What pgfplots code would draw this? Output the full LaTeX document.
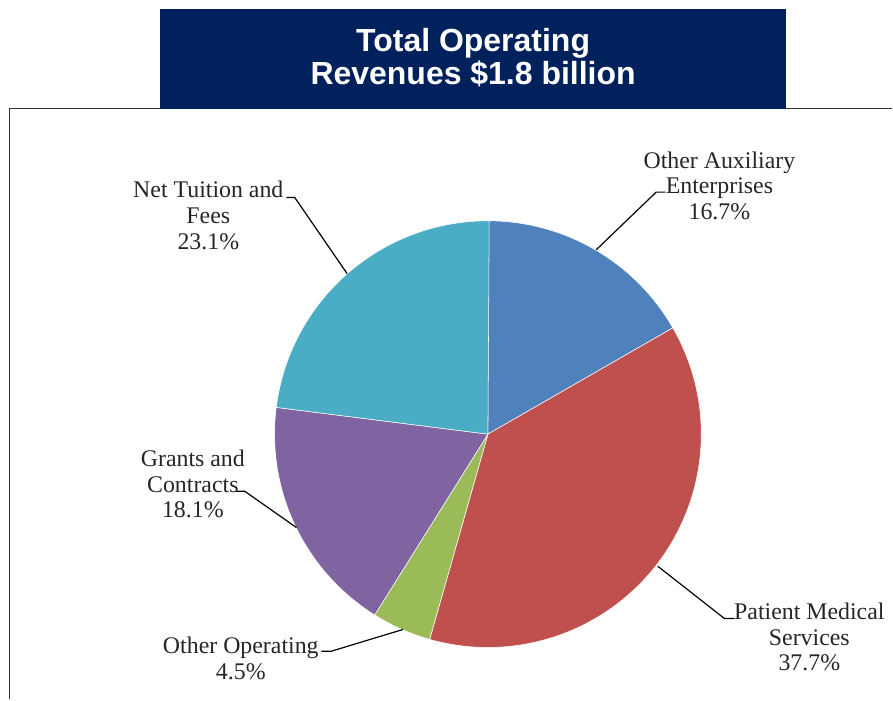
\documentclass[border=0pt]{standalone}
\usepackage{pgfplots}
\pgfplotsset{compat=1.18}
\usepackage{pgfplotstable}
\usepackage{fontspec}
\setmainfont{Liberation Serif}
\newfontfamily\titlefont{Liberation Sans}
\definecolor{cA}{RGB}{79,129,189}
\definecolor{cB}{RGB}{192,80,77}
\definecolor{cC}{RGB}{155,187,89}
\definecolor{cD}{RGB}{128,100,162}
\definecolor{cE}{RGB}{75,172,198}
\definecolor{navy}{RGB}{0,33,91}
\definecolor{txt}{RGB}{38,38,38}
\definecolor{frame}{RGB}{50,50,50}
\pgfplotstableread{
label value color
Aux 16.7 cA
Patient 37.7 cB
OtherOp 4.5 cC
Grants 18.1 cD
Tuition 23.1 cE
}\piedata
\newcommand{\lab}{\fontsize{17.9}{19}\selectfont}
\begin{document}
\begin{tikzpicture}
\begin{axis}[x=0.75pt, y=0.75pt, xmin=0, xmax=893, ymin=0, ymax=700,
  hide axis, clip=false, scale only axis]
\path (axis cs:0,0) rectangle (axis cs:893,700);
% frame
\draw[frame, line width=1.1pt] (axis cs:9.5,0) -- (axis cs:9.5,591.3) -- (axis cs:893,591.3);
% title box
\fill[navy] (axis cs:160,591) rectangle (axis cs:787,691);
\node[anchor=base, text=white, inner sep=0, font=\titlefont\bfseries\fontsize{24}{25}\selectfont] at (axis cs:473.5,648.3) {Total Operating};
\node[anchor=base, text=white, inner sep=0, font=\titlefont\bfseries\fontsize{24}{25}\selectfont] at (axis cs:473.5,615) {Revenues \$1.8 billion};
% pie
\def\cum{0}
\pgfplotsforeachungrouped \i in {0,...,4}{%
  \pgfplotstablegetelem{\i}{value}\of\piedata \let\val\pgfplotsretval
  \pgfplotstablegetelem{\i}{color}\of\piedata \let\col\pgfplotsretval
  \pgfmathsetmacro\aS{90-3.6*\cum}%
  \pgfmathsetmacro\aE{90-3.6*(\cum+\val)}%
  \pgfmathsetmacro\xS{488.3+213.5*cos(\aS)}%
  \pgfmathsetmacro\yS{265.5+213.5*sin(\aS)}%
  \edef\temp{\noexpand\fill[\col, draw=white, line width=0.4pt] (axis cs:488.3,265.5) -- (axis cs:\xS,\yS) arc[start angle=\aS, end angle=\aE, radius=213.5] -- cycle;}%
  \temp
  \pgfmathsetmacro\cum{\cum+\val}%
}
% leader lines
\draw[black, line width=0.9pt] (axis cs:596.7,450) -- (axis cs:656.7,507.7) -- (axis cs:666,507.7);
\draw[black, line width=0.9pt] (axis cs:286.7,502.3) -- (axis cs:295,502.3) -- (axis cs:347.5,426);
\draw[black, line width=0.9pt] (axis cs:236,208.3) -- (axis cs:245,208.3) -- (axis cs:296.7,172);
\draw[black, line width=0.9pt] (axis cs:321.7,48.3) -- (axis cs:331.7,48.3) -- (axis cs:403.3,70);
\draw[black, line width=0.9pt] (axis cs:658.3,133.3) -- (axis cs:725,81) -- (axis cs:735,81);
% labels
\tikzset{lb/.style={anchor=base, text=txt, inner sep=0, font=\lab}}
\node[lb] at (axis cs:720,531.5) {Other Auxiliary};
\node[lb] at (axis cs:720,506) {Enterprises};
\node[lb] at (axis cs:720,480.5) {16.7\%};
\node[lb] at (axis cs:208.5,502) {Net Tuition and};
\node[lb] at (axis cs:208.5,476) {Fees};
\node[lb] at (axis cs:208.5,450) {23.1\%};
\node[lb] at (axis cs:193,233) {Grants and};
\node[lb] at (axis cs:193,207.5) {Contracts};
\node[lb] at (axis cs:193,182) {18.1\%};
\node[lb] at (axis cs:241,45.5) {Other Operating};
\node[lb] at (axis cs:241,19.5) {4.5\%};
\node[lb] at (axis cs:810,80) {Patient Medical};
\node[lb] at (axis cs:810,54) {Services};
\node[lb] at (axis cs:810,28.5) {37.7\%};
\end{axis}
\end{tikzpicture}
\end{document}
